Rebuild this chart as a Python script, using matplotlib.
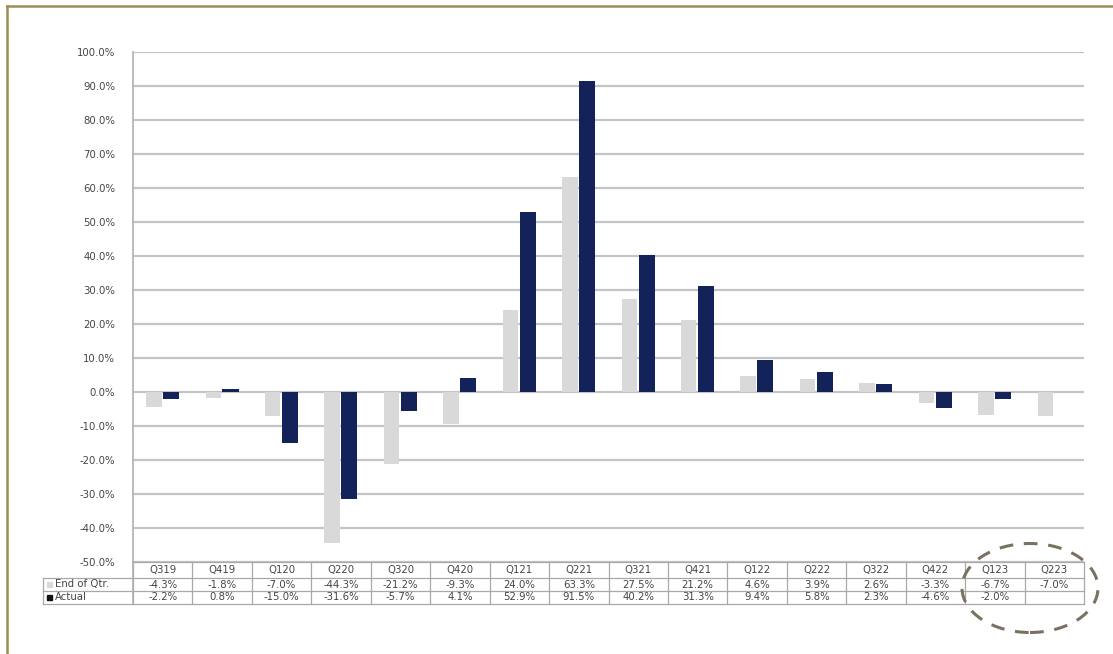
import numpy as np
import matplotlib
matplotlib.use("Agg")
import matplotlib.pyplot as plt
from matplotlib.patches import Ellipse, Rectangle
from matplotlib.lines import Line2D
import matplotlib.transforms as mtransforms

quarters = ["Q319", "Q419", "Q120", "Q220", "Q320", "Q420", "Q121", "Q221",
            "Q321", "Q421", "Q122", "Q222", "Q322", "Q422", "Q123", "Q223"]
end_of_qtr = [-4.3, -1.8, -7.0, -44.3, -21.2, -9.3, 24.0, 63.3,
              27.5, 21.2, 4.6, 3.9, 2.6, -3.3, -6.7, -7.0]
actual = [-2.2, 0.8, -15.0, -31.6, -5.7, 4.1, 52.9, 91.5,
          40.2, 31.3, 9.4, 5.8, 2.3, -4.6, -2.0, None]
series_names = ["End of Qtr.", "Actual"]
y_ticks = list(range(-50, 101, 10))

W, H = 1113, 654
LIGHT = "#d9d9d9"
DARK = "#13235a"
GRID = "#c4c4c4"
TXT = "#444444"
FONT = "DejaVu Sans"
FS = 7.3

fig = plt.figure(figsize=(W / 100, H / 100), dpi=100)
fig.patch.set_facecolor("white")

def px(x0, y0, x1, y1):
    return [x0 / W, 1 - y1 / H, (x1 - x0) / W, (y1 - y0) / H]

ax_left, ax_right, ax_top, ax_bot = 133, 1084, 52, 562
ax = fig.add_axes(px(ax_left, ax_top, ax_right, ax_bot))

n = len(quarters)
x = np.arange(n)
e_vals = np.array(end_of_qtr, dtype=float)
a_vals = np.array([np.nan if v is None else v for v in actual], dtype=float)
ax.bar(x - 0.15, e_vals, 0.26, color=LIGHT, zorder=3)
ax.bar(x + 0.14, a_vals, 0.27, color=DARK, zorder=3)

ax.set_xlim(-0.5, n - 0.5)
ax.set_ylim(-50, 100)
ax.set_yticks(y_ticks)
ax.set_yticklabels([f"{t:.1f}%" for t in y_ticks], fontsize=FS, family=FONT, color=TXT)
ax.tick_params(axis="y", length=0, pad=13)
ax.set_xticks([])
ax.grid(axis="y", color=GRID, lw=1.6, zorder=0)
for s in ["top", "right", "bottom"]:
    ax.spines[s].set_visible(False)
ax.spines["left"].set_color("#b0b0b0")
ax.spines["left"].set_linewidth(1.2)

# ---- data table below the axes ----
row_px = [562, 578, 591, 604]
ah = ax_bot - ax_top
def yfrac(p):
    return (ax_bot - p) / ah
trans = mtransforms.blended_transform_factory(ax.transData, ax.transAxes)
tcol = "#a8a8a8"
legend_left = -0.5 - 90 / ((ax_right - ax_left) / n)
for i, p in enumerate(row_px):
    xs = (-0.5, n - 0.5) if i == 0 else (legend_left, n - 0.5)
    ax.add_line(Line2D(xs, [yfrac(p)] * 2, transform=trans, color=tcol, lw=0.9, clip_on=False))
for k in range(n + 1):
    ax.add_line(Line2D([k - 0.5] * 2, [yfrac(row_px[0]), yfrac(row_px[-1])],
                       transform=trans, color=tcol, lw=0.9, clip_on=False))
ax.add_line(Line2D([legend_left] * 2, [yfrac(row_px[1]), yfrac(row_px[-1])],
                   transform=trans, color=tcol, lw=0.9, clip_on=False))
ax.add_line(Line2D([-0.5] * 2, [yfrac(row_px[0]), yfrac(row_px[-1])],
                   transform=trans, color="#b0b0b0", lw=1.2, clip_on=False))

def fmt(v):
    return "" if v is None else f"{v:.1f}%"

for k in range(n):
    for r, txt in enumerate([quarters[k], fmt(end_of_qtr[k]), fmt(actual[k])]):
        ax.text(k, yfrac((row_px[r] + row_px[r + 1]) / 2), txt, transform=trans,
                ha="center", va="center", fontsize=FS, family=FONT, color=TXT, clip_on=False)

# legend column
for r, (name, colr) in enumerate(zip(series_names, [LIGHT, "#111111"])):
    yc = (row_px[1 + r] + row_px[2 + r]) / 2
    fig.add_artist(Rectangle((47 / W, 1 - (yc + 2.5) / H), 5 / W, 5 / H,
                             transform=fig.transFigure, color=colr))
    fig.text(55 / W, 1 - yc / H, name, ha="left", va="center",
             fontsize=FS, family=FONT, color=TXT)

# dashed ellipse highlight
fig.add_artist(Ellipse((1030 / W, 1 - 588 / H), 136 / W, 89 / H,
                       transform=fig.transFigure, fill=False,
                       edgecolor="#7a7260", lw=2.2, linestyle=(0, (4.5, 3.5))))

# outer border (olive)
fig.add_artist(Line2D([7 / W, 7 / W], [0, 1 - 6 / H], transform=fig.transFigure,
                      color="#9b8f52", lw=1.8))
fig.add_artist(Line2D([7 / W, 1], [1 - 6 / H, 1 - 6 / H], transform=fig.transFigure,
                      color="#9b8f52", lw=1.8))

fig.savefig("out.png", dpi=100)
